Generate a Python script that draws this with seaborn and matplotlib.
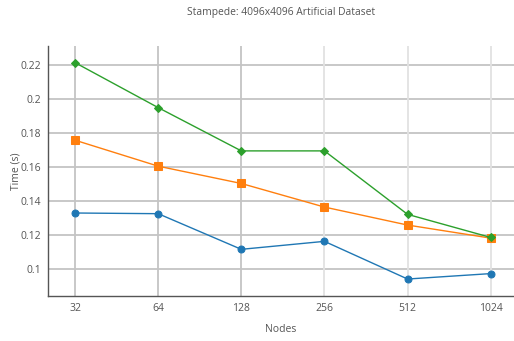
import matplotlib
matplotlib.use("Agg")
import matplotlib.pyplot as plt
import seaborn as sns
import pandas as pd

nodes = ["32", "64", "128", "256", "512", "1024"]
series_a = [0.1328, 0.1324, 0.1114, 0.1161, 0.0939, 0.0971]
series_b = [0.1757, 0.1604, 0.1502, 0.1363, 0.1257, 0.1180]
series_c = [0.2214, 0.1949, 0.1694, 0.1694, 0.1320, 0.1184]
series_names = ["A", "B", "C"]
y_ticks = [0.1, 0.12, 0.14, 0.16, 0.18, 0.2, 0.22]
y_tick_labels = ["0.1", "0.12", "0.14", "0.16", "0.18", "0.2", "0.22"]

sns.set_theme(style="white")
plt.rcParams["font.family"] = ["Open Sans", "DejaVu Sans"]

rows = []
for name, vals in zip(series_names, [series_a, series_b, series_c]):
    for i, (n, v) in enumerate(zip(nodes, vals)):
        rows.append({"series": name, "pos": i, "nodes": n, "time": v})
df = pd.DataFrame(rows)

fig = plt.figure(figsize=(5.14, 3.41), dpi=100)
ax = fig.add_axes([48 / 514, 45 / 341, 466 / 514, 250 / 341])

# grid lines drawn beneath the data
for yt in y_ticks:
    ax.axhline(yt, color="#c4c4c4", lw=1.3, zorder=0)
for i in range(len(nodes)):
    ax.axvline(i, color="#c4c4c4" if i < 3 else "#e2e2e2", lw=1.3, zorder=0)

palette = {"A": "#1f77b4", "B": "#ff7f0e", "C": "#2ca02c"}
markers = {"A": "o", "B": "s", "C": "D"}
sizes = {"A": 5, "B": 6, "C": 4.5}
for name in series_names:
    sub = df[df["series"] == name]
    sns.lineplot(data=sub, x="pos", y="time", color=palette[name], marker=markers[name],
                 markersize=sizes[name], markeredgecolor=palette[name], lw=1.0,
                 ax=ax, zorder=3, legend=False)

ax.set_xlim(-0.325, 5.28)
ax.set_ylim(0.0839, 0.2312)
ax.set_xticks(range(len(nodes)))
ax.set_xticklabels(nodes)
ax.set_yticks(y_ticks)
ax.set_yticklabels(y_tick_labels)
ax.tick_params(axis="both", direction="in", length=3, width=1, color="#444444",
               labelsize=7.5, labelcolor="#555555", pad=5)

for side in ["top", "right"]:
    ax.spines[side].set_visible(False)
for side in ["left", "bottom"]:
    ax.spines[side].set_color("#555555")
    ax.spines[side].set_linewidth(1.0)

ax.set_xlabel("Nodes", fontsize=7.5, color="#555555")
ax.set_ylabel("Time (s)", fontsize=7.5, color="#555555")
ax.xaxis.set_label_coords(0.5, -0.136)
ax.yaxis.set_label_coords(-0.0687, 0.5)
ax.xaxis.label.set_va("center")
ax.yaxis.label.set_va("center")
fig.text(281 / 514, 1 - 13 / 341, "Stampede: 4096x4096 Artificial Dataset",
         ha="center", va="center", fontsize=7.4, color="#555555")

fig.savefig("out.png", dpi=100)
